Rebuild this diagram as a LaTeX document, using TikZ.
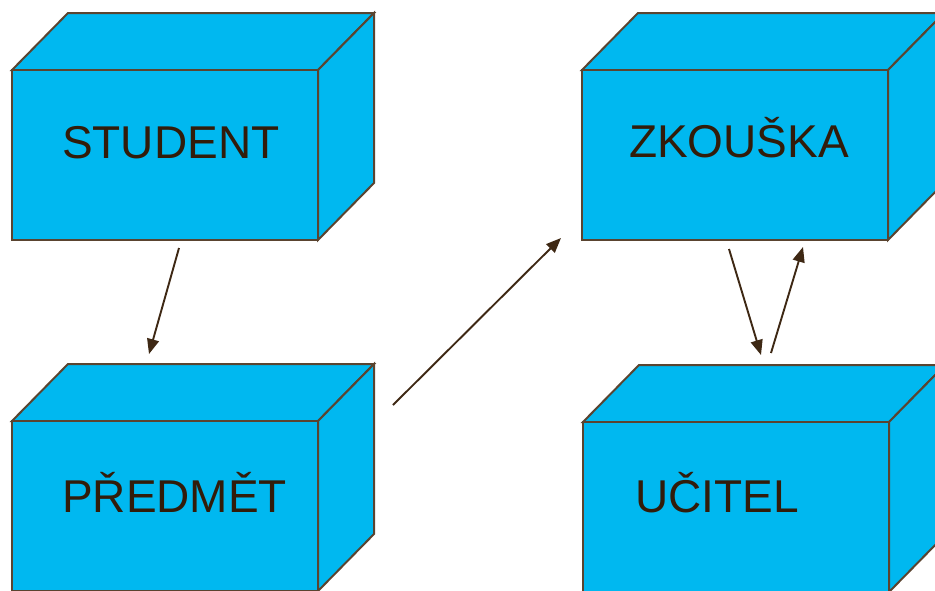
\documentclass[tikz,border=0pt]{standalone}
\usepackage{fontspec}
\setmainfont{Liberation Sans}
\usetikzlibrary{arrows.meta}
\definecolor{boxfill}{RGB}{0,184,240}
\definecolor{edge}{RGB}{90,68,48}
\definecolor{ink}{RGB}{50,28,10}
\definecolor{arr}{RGB}{62,40,20}
\tikzset{
  front/.style={draw=edge, fill=boxfill, line width=2pt, inner sep=0pt, outer sep=0pt,
    minimum width=306pt, minimum height=170pt, line join=miter},
  face/.style={draw=edge, fill=boxfill, line width=2pt, line join=miter},
  lbl/.style={font=\fontsize{46}{50}\selectfont, text=ink, anchor=base west, inner sep=0pt},
  conn/.style={draw=arr, line width=1.9pt, -{Triangle[length=15pt,width=12pt]}}
}
\begin{document}
\begin{tikzpicture}[x=1pt,y=-1pt]
\useasboundingbox (0,0) rectangle (935,590);
\clip (0,0) rectangle (935,590);
\fill[white] (0,0) rectangle (935,590);
\tikzset{cube/.pic={
  \path[face] (-153,-85) -- ++(56,-57) -- ++(306,0) -- (153,-85) -- cycle;
  \path[face] (153,-85) -- ++(56,-57) -- ++(0,170) -- (153,85) -- cycle;
}}
% STUDENT
\pic at (165,155) {cube};
\node[front] (student) at (165,155) {};
\node[lbl] (tstudent) at (62,158) {STUDENT};
% ZKOUSKA
\pic at (735,155) {cube};
\node[front] (zkouska) at (735,155) {};
\node[lbl] (tzkouska) at (629,157) {ZKOUŠKA};
% PREDMET
\pic at (165,506) {cube};
\node[front] (predmet) at (165,506) {};
\node[lbl] (tpredmet) at (62,512) {PŘEDMĚT};
% UCITEL
\pic at (736,507) {cube};
\node[front] (ucitel) at (736,507) {};
\node[lbl] (tucitel) at (635,512) {UČITEL};
% connectors
\coordinate (s1) at (179,248);
\coordinate (e1) at (149,354);
\coordinate (s2) at (393,405);
\coordinate (e2) at (561,238);
\coordinate (s3) at (729,249);
\coordinate (e3) at (761,355);
\coordinate (s4) at (771,353);
\coordinate (e4) at (803,247);
\draw[conn] (s1) -- (e1);
\draw[conn] (s2) -- (e2);
\draw[conn] (s3) -- (e3);
\draw[conn] (s4) -- (e4);
\end{tikzpicture}
\end{document}
